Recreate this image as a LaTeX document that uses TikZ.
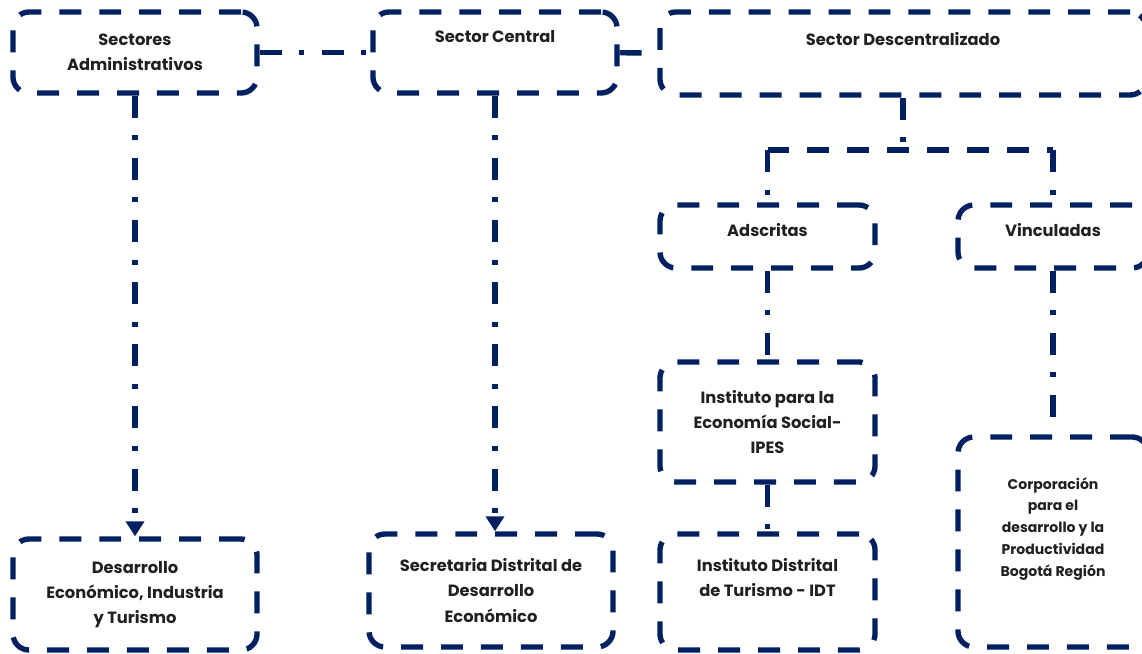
\documentclass[tikz,border=0pt]{standalone}
\usepackage{fontspec}
\setmainfont{Poppins}
\usetikzlibrary{positioning}
\usetikzlibrary{arrows.meta}
\definecolor{navy}{HTML}{002060}
\definecolor{ink}{HTML}{231F20}
\tikzset{
    mybox/.style = {rectangle, rounded corners=0.4cm, line width=3.8pt, draw=navy, dash pattern=on 15.6pt off 12.8pt, align=center, inner sep=0pt, font=\bfseries\fontsize{11.6}{17.8}\selectfont, text=ink},
    mysmallbox/.style = {mybox, font=\bfseries\fontsize{10}{15.6}\selectfont},
    lift/.style = {text height=0.7em, text depth=#1},
    edged/.style = {-, line width=3.8pt, navy, dash pattern=on 15.6pt off 12.5pt on 3.6pt off 12.5pt}, % dash-dot
    edgeh/.style = {-, line width=3.8pt, navy, dash pattern=on 15.6pt off 12.8pt}, % dashed
    edgea/.style = {edged, -{Triangle[length=0.375cm, width=0.45cm]}}
}
\begin{document}
\begin{tikzpicture}[x=0.025cm, y=-0.025cm]
\path[use as bounding box] (0,0) rectangle (1142,653);
% top row
\node[mybox, minimum width=6.1cm, minimum height=2.025cm] at (135, 52.5) (secadm) {Sectores\\Administrativos};
\node[mybox, lift=0.725cm, minimum width=6.1cm, minimum height=2.025cm] at (495, 52.5) (seccen) {Sector Central};
\node[mybox, lift=0.625cm, minimum width=12.15cm, minimum height=2.075cm] at (903, 53.5) (secdes) {Sector Descentralizado};
%
\node[mybox, lift=0.225cm, minimum width=5.375cm, minimum height=1.575cm] at (767.5, 236.5) (adscr) {Adscritas};
\node[mybox, lift=0.225cm, minimum width=4.75cm, minimum height=1.575cm] at (1053, 236.5) (vincu) {Vinculadas};
\node[mybox, minimum width=5.375cm, minimum height=3.0cm] at (767.5, 422) (ipes) {Instituto para la\\Economía Social-\\IPES};
\node[mysmallbox, text depth=0.75cm, minimum width=4.75cm, minimum height=5.25cm] at (1053, 542) (corpo) {Corporación\\para el\\desarrollo y la\\Productividad\\Bogotá Región};
% bottom row
\node[mybox, minimum width=6.1cm, minimum height=2.775cm] at (135, 594.5) (desec) {Desarrollo\\Económico, Industria\\y Turismo};
\node[mybox, minimum width=6.1cm, minimum height=2.825cm] at (491, 590.5) (secret) {Secretaria Distrital de\\Desarrollo\\Económico};
\node[mybox, text depth=0.75cm, minimum width=5.375cm, minimum height=2.9cm] at (767.5, 592) (idt) {Instituto Distrital\\de Turismo - IDT};
%
\coordinate (split) at (903, 150);
\coordinate (splitl) at (adscr.north |- split);
\coordinate (splitr) at (vincu.north |- split);
\draw[edged] (secadm) -- (seccen);
\draw[edged] (seccen) -- (secdes);
\draw[edgea] (secadm) -- (desec);
\draw[edgea] (seccen.south) -- (seccen.south |- secret.north);
\draw[edged] (secdes.south) -- (split);
\draw[edgeh] (splitl) -- (splitr);
\draw[edged] (splitl) -- (adscr.north);
\draw[edged] (splitr) -- (vincu.north);
\draw[edged] (adscr) -- (ipes);
\draw[edged] (vincu) -- (corpo);
\draw[edged] (ipes) -- (idt);
\end{tikzpicture}
\end{document}
